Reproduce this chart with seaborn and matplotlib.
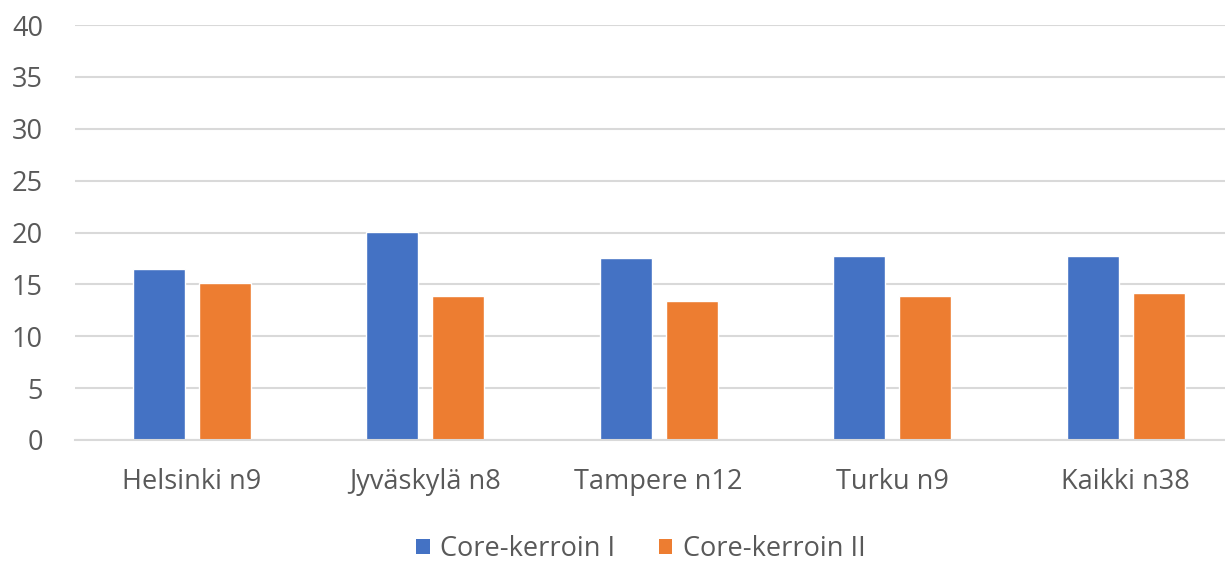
import matplotlib
matplotlib.use("Agg")
import matplotlib.pyplot as plt
import seaborn as sns
import pandas as pd
from matplotlib.patches import Patch

categories = ["Helsinki n9", "Jyväskylä n8", "Tampere n12", "Turku n9", "Kaikki n38"]
series_names = ["Core-kerroin I", "Core-kerroin II"]
core_I = [16.45, 20.05, 17.5, 17.75, 17.75]
core_II = [15.15, 13.85, 13.35, 13.85, 14.15]
colors = ["#4472C4", "#ED7D31"]
y_ticks = [0, 5, 10, 15, 20, 25, 30, 35, 40]

df = pd.DataFrame({
    "category": categories * 2,
    "series": [series_names[0]] * len(categories) + [series_names[1]] * len(categories),
    "value": core_I + core_II,
})

sns.set_theme(style="white")
plt.rcParams["font.family"] = ["Open Sans", "DejaVu Sans"]

fs = 19.5
fig = plt.figure(figsize=(12.25, 5.63), dpi=100)
ax = fig.add_axes([75 / 1225, (563 - 440) / 563, (1225 - 75) / 1225, (440 - 25) / 563])

sns.barplot(data=df, x="category", y="value", hue="series", order=categories,
            hue_order=series_names, palette=colors, width=0.565, gap=0.21,
            saturation=1, ax=ax, legend=False, errorbar=None)

ax.set_ylim(0, 40)
ax.set_xlim(-0.5, -0.5 + (1225 - 75) / 233.5)
ax.set_yticks(y_ticks)
ax.yaxis.grid(True, color="#d9d9d9", linewidth=1.5)
ax.set_axisbelow(True)
for s in ["top", "right", "left"]:
    ax.spines[s].set_visible(False)
ax.spines["bottom"].set_color("#d9d9d9")
ax.spines["bottom"].set_linewidth(1.5)
ax.set_xlabel("")
ax.set_ylabel("")
ax.tick_params(axis="both", length=0, labelsize=fs, labelcolor="#595959")
ax.tick_params(axis="y", pad=23)
ax.tick_params(axis="x", pad=20)

handles = [Patch(facecolor=c, edgecolor="none") for c in colors]
fig.legend(handles, series_names, loc="center", bbox_to_anchor=(641 / 1225, 1 - 549 / 563),
           ncol=2, frameon=False, fontsize=fs, labelcolor="#595959",
           handlelength=0.5, handleheight=0.5, handletextpad=0.4, columnspacing=1.6)

fig.savefig("out.png", dpi=100)
